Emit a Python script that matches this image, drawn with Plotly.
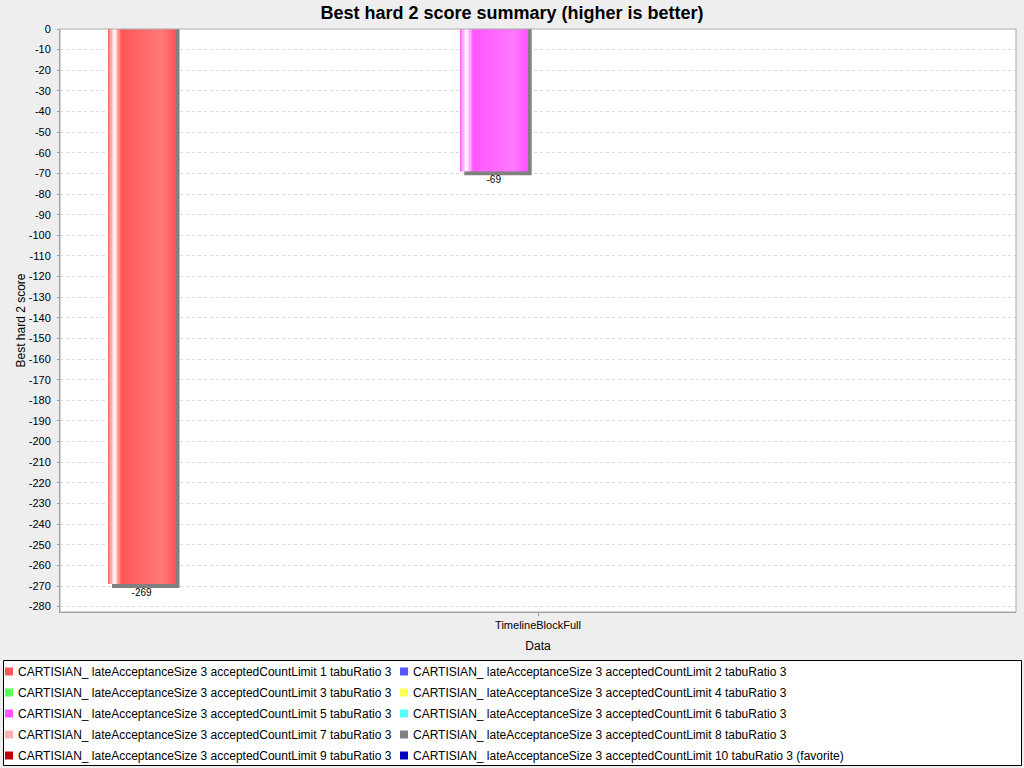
import plotly.graph_objects as go

categories = ["TimelineBlockFull"]
series_names = [
    "CARTISIAN_ lateAcceptanceSize 3 acceptedCountLimit 1 tabuRatio 3",
    "CARTISIAN_ lateAcceptanceSize 3 acceptedCountLimit 2 tabuRatio 3",
    "CARTISIAN_ lateAcceptanceSize 3 acceptedCountLimit 3 tabuRatio 3",
    "CARTISIAN_ lateAcceptanceSize 3 acceptedCountLimit 4 tabuRatio 3",
    "CARTISIAN_ lateAcceptanceSize 3 acceptedCountLimit 5 tabuRatio 3",
    "CARTISIAN_ lateAcceptanceSize 3 acceptedCountLimit 6 tabuRatio 3",
    "CARTISIAN_ lateAcceptanceSize 3 acceptedCountLimit 7 tabuRatio 3",
    "CARTISIAN_ lateAcceptanceSize 3 acceptedCountLimit 8 tabuRatio 3",
    "CARTISIAN_ lateAcceptanceSize 3 acceptedCountLimit 9 tabuRatio 3",
    "CARTISIAN_ lateAcceptanceSize 3 acceptedCountLimit 10 tabuRatio 3 (favorite)",
]
series_values = [-269, None, None, None, -69, None, None, None, None, None]
series_colors = ["#FF5555", "#5555FF", "#55FF55", "#FFFF55", "#FF55FF",
                 "#55FFFF", "#FFAFAF", "#808080", "#C00000", "#0000C0"]
y_ticks = list(range(0, -290, -10))

W, H = 1024, 768
ml, mr, mt, mb = 60, 8, 29, 156
plot_w = W - ml - mr
plot_h = H - mt - mb
y_min, y_max = -282.6, 0
px_x = 1.0 / plot_w            # category-axis units per px
px_y = (y_max - y_min) / plot_h
shadow = 4
bargap, bargroupgap = 0.079, 0.234
n = len(series_names)
slot = (1 - bargap) / n
bar_w = slot * (1 - bargroupgap)

font = "Liberation Sans, Arial, sans-serif"


def hex_rgb(h):
    h = h.lstrip("#")
    return tuple(int(h[i:i + 2], 16) for i in (0, 2, 4))


def brighter(c):
    out = []
    for v in c:
        v = 3 if 0 < v < 3 else v
        out.append(min(int(v / 0.7), 255) if v else 0)
    if all(v == 0 for v in c):
        out = [3, 3, 3]
    return tuple(out)


def mix(a, b, t):
    return "rgb(%d,%d,%d)" % tuple(round(a[i] + (b[i] - a[i]) * t) for i in range(3))


fig = go.Figure()
white = (255, 255, 255)
regions = [(0.0, 0.10), (0.10, 0.20), (0.20, 0.80), (0.80, 1.0)]
steps = [5, 5, 24, 8]

for i, (name, val, col) in enumerate(zip(series_names, series_values, series_colors)):
    if val is None:
        continue
    off = -(1 - bargap) / 2 + i * slot + slot * bargroupgap / 2
    c0 = hex_rgb(col)
    c1 = brighter(c0)
    # shadow
    fig.add_trace(go.Bar(
        x=categories, y=[val - shadow * px_y], offset=off + shadow * px_x,
        width=bar_w, marker=dict(color="#808080", line=dict(width=0)),
        showlegend=False, hoverinfo="skip"))
    # gradient body
    xs, offs, ws, cols = [], [], [], []
    pairs = [(c0, white), (white, c0), (c0, c1), (c1, c0)]
    for (r0, r1), k, (ca, cb) in zip(regions, steps, pairs):
        step = (r1 - r0) / k
        for j in range(k):
            xs.append(categories[0])
            offs.append(off + (r0 + j * step) * bar_w)
            ws.append(step * bar_w * (1.15 if (r1 < 1 or j < k - 1) else 1.0))
            cols.append(mix(ca, cb, (j + 0.5) / k))
    fig.add_trace(go.Bar(
        x=xs, y=[val] * len(xs), offset=offs, width=ws,
        marker=dict(color=cols, line=dict(width=0)),
        name=name, showlegend=False, hovertemplate=name + ": %{y}<extra></extra>"))
    # value label below the bar
    fig.add_trace(go.Bar(
        x=categories, y=[val], offset=off, width=bar_w,
        marker=dict(color="rgba(0,0,0,0)", line=dict(width=0)),
        text=[str(val)], textposition="outside", cliponaxis=False,
        textfont=dict(family=font, size=10, color="#000000"),
        showlegend=False, hoverinfo="skip"))

fig.update_layout(
    width=W, height=H,
    margin=dict(l=ml, r=mr, t=mt, b=mb),
    paper_bgcolor="#EEEEEE", plot_bgcolor="#FFFFFF",
    barmode="overlay",
    title=dict(text="<b>Best hard 2 score summary (higher is better)</b>",
               x=0.5, xanchor="center", y=1 - 13 / H, yanchor="middle",
               font=dict(family=font, size=18, color="#000000")),
    font=dict(family=font, size=12, color="#000000"),
    xaxis=dict(type="category", range=[-0.5, 0.5],
               tickfont=dict(size=11, color="#000000"),
               showgrid=False, zeroline=False, showline=True,
               linecolor="#999999", linewidth=1, ticks="outside",
               ticklen=3, tickcolor="#999999",
               title=dict(text="Data", font=dict(size=12), standoff=11)),
    yaxis=dict(range=[y_min, y_max], tickmode="array", tickvals=y_ticks,
               ticktext=[str(v) for v in y_ticks],
               tickfont=dict(size=11, color="#000000"),
               showgrid=True, gridcolor="#DADADA", griddash="3px,3px",
               gridwidth=1, zeroline=False, showline=True,
               linecolor="#999999", linewidth=1, ticks="outside",
               ticklen=2, tickcolor="#999999", ticklabelstandoff=4,
               title=dict(text="Best hard 2 score", font=dict(size=12),
                          standoff=0)),
    showlegend=False,
)


def px2paper_x(px):
    return (px - ml) / plot_w


def px2paper_y(py):
    return (H - mb - py) / plot_h


# legend (2 columns) drawn from the series lists
fig.add_shape(type="rect", xref="paper", yref="paper",
              x0=px2paper_x(3.5), x1=px2paper_x(1021.5),
              y0=px2paper_y(765.5), y1=px2paper_y(660.5),
              line=dict(color="#000000", width=1), fillcolor="#FFFFFF",
              layer="below")
row_y0, row_dy = 671.5, 21
col_x = [5, 400]
for i, (name, col) in enumerate(zip(series_names, series_colors)):
    cx = col_x[i % 2]
    cy = row_y0 + (i // 2) * row_dy
    fig.add_shape(type="rect", xref="paper", yref="paper",
                  x0=px2paper_x(cx), x1=px2paper_x(cx + 8),
                  y0=px2paper_y(cy + 4), y1=px2paper_y(cy - 4),
                  line=dict(width=0), fillcolor=col)
    fig.add_annotation(text=name, xref="paper", yref="paper",
                       x=px2paper_x(cx + 10.5), y=px2paper_y(cy),
                       xanchor="left", yanchor="middle", showarrow=False,
                       font=dict(family=font, size=12, color="#000000"))

# plot border
fig.add_shape(type="rect", xref="paper", yref="paper", x0=0, x1=1, y0=0, y1=1,
              line=dict(color="#AAAAAA", width=1), layer="above")

fig.write_html("out.html")
